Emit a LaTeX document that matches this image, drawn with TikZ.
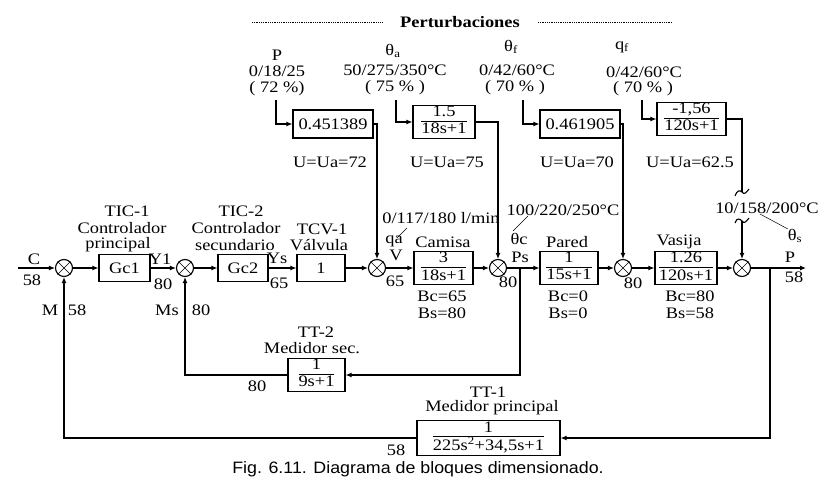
\documentclass[tikz,border=0pt]{standalone}
\usepackage{fontspec}
\setmainfont{Liberation Serif}[FakeStretch=1.15]
\newfontfamily\capfont{Liberation Sans}[FakeStretch=1.08]
\usetikzlibrary{arrows.meta}
\newcommand\fr[2]{{\renewcommand\arraystretch{0.75}\begin{tabular}{@{}c@{}}\rule[-2pt]{0pt}{12pt}#1\\\hline\rule{0pt}{13pt}#2\end{tabular}}}
\begin{document}
\begin{tikzpicture}[x=1pt,y=-1pt,
  every node/.style={font=\fontsize{16}{17}\selectfont, inner sep=0pt},
  blk/.style={draw, line width=1.1pt, minimum height=27pt, inner sep=1pt},
  sumj/.style={draw, circle, line width=1.1pt, minimum size=17pt, inner sep=0pt},
  ln/.style={line width=1.1pt},
  arr/.style={ln, -{Latex[length=6pt,width=5pt]}},
  lead/.style={line width=0.5pt},
  wav/.style={line width=1.1pt}]
\fill[white] (0,0) rectangle (828,485);
\useasboundingbox (0,0) rectangle (828,485);

% title
\node[font=\bfseries\fontsize{16}{17}\selectfont] (tit) at (460,22) {Perturbaciones};
\draw[line width=0.8pt, densely dotted] (252,22) -- (383,22);
\draw[line width=0.8pt, densely dotted] (538,22) -- (672,22);

% disturbance labels
\node (lp1) at (277,55) {P};
\node (lp2) at (277,71) {0/18/25};
\node (lp3) at (277,89) {( 72 \%)};
\node (la1) at (393,51) {θ\textsubscript{a}};
\node (la2) at (395,70) {50/275/350°C};
\node (la3) at (395,88) {( 75 \% )};
\node (lf1) at (511,47) {θ\textsubscript{f}};
\node (lf2) at (517,70) {0/42/60°C};
\node (lf3) at (515,88) {( 70 \% )};
\node (lq1) at (622,47) {q\textsubscript{f}};
\node (lq2) at (644,72) {0/42/60°C};
\node (lq3) at (643,89) {( 70 \% )};

% disturbance blocks
\node[blk, minimum width=80pt, minimum height=28pt] (bp) at (333,124) {0.451389};
\node[blk, minimum width=62pt, minimum height=30pt] (ba) at (444,122) {\fr{1.5}{18s+1}};
\node[blk, minimum width=80pt, minimum height=28pt] (bf) at (580,124) {0.461905};
\node[blk, minimum width=69pt, minimum height=32pt] (bq) at (691.5,119) {\fr{-1,56}{120s+1}};

\node (up) at (330,162) {U=Ua=72};
\node (ua) at (447,162) {U=Ua=75};
\node (uf) at (577,162) {U=Ua=70};
\node (uq) at (690,162) {U=Ua=62.5};

% main row
\node[sumj] (s1) at (64,268) {};
\node[sumj] (s2) at (185,268) {};
\node[sumj] (s3) at (377,268) {};
\node[sumj] (s4) at (498,268) {};
\node[sumj] (s5) at (623,268) {};
\node[sumj] (s6) at (742,268) {};
\foreach \s in {s1,s2,s3,s4,s5,s6}
  \draw[line width=0.6pt] (\s.north west) -- (\s.south east) (\s.north east) -- (\s.south west);

\node[blk, minimum width=51pt] (gc1) at (124.5,268) {Gc1};
\node[blk, minimum width=50pt] (gc2) at (243,268) {Gc2};
\node[blk, minimum width=48pt] (val) at (321,268) {1};
\node[blk, minimum width=59pt, minimum height=30pt] (cam) at (443.5,268) {\fr{3}{18s+1}};
\node[blk, minimum width=58pt, minimum height=30pt] (par) at (569,268) {\fr{1}{15s+1}};
\node[blk, minimum width=62pt, minimum height=30pt] (vas) at (686,268) {\fr{1.26}{120s+1}};

% block labels
\node (t1a) at (127,211) {TIC-1};
\node (t1b) at (122,228) {Controlador};
\node (t1c) at (118,245) {principal};
\node (t2a) at (241,211) {TIC-2};
\node (t2b) at (236,228) {Controlador};
\node (t2c) at (235,245) {secundario};
\node (tva) at (322,229) {TCV-1};
\node (tvb) at (319,245) {Válvula};
\node (tcam) at (443,242) {Camisa};
\node (tpar) at (567,242) {Pared};
\node (tvas) at (679,242) {Vasija};

% signal labels
\node (lc) at (34,259) {C};
\node (lc2) at (32,280) {58};
\node (ly1) at (160,259) {Y1};
\node (ly2) at (163,284) {80};
\node (lys) at (277,258) {Ys};
\node (lys2) at (279,283) {65};
\node (lqa) at (394,241) {qa};
\node (lv) at (396,255) {V};
\node (lv2) at (395,281) {65};
\node (lqr) at (441,218) {0/117/180 l/min};
\node (ltc) at (519,239) {θc};
\node (lps) at (520,257) {Ps};
\node (lps2) at (508,282) {80};
\node (ltcr) at (563,210) {100/220/250°C};
\node (l5) at (633,283) {80};
\node (lP) at (790,257) {P};
\node (lP2) at (794,277) {58};
\node (lts) at (767,208) {10/158/200°C};
\node (lths) at (795,236) {θ\textsubscript{s}};

\node (bc1) at (442,296) {Bc=65};
\node (bs1) at (442,313) {Bs=80};
\node (bc2) at (568,296) {Bc=0};
\node (bs2) at (568,313) {Bs=0};
\node (bc3) at (690,296) {Bc=80};
\node (bs3) at (690,313) {Bs=58};

\node (lm) at (50,310) {M};
\node (lm2) at (77,310) {58};
\node (lms) at (167,310) {Ms};
\node (lms2) at (201,310) {80};

% feedback blocks
\node (tt2a) at (316,332) {TT-2};
\node (tt2b) at (312,348) {Medidor sec.};
\node[blk, minimum width=57pt, minimum height=32pt] (tt2) at (316.5,375) {\fr{1}{9s+1}};
\node (l80) at (257,386) {80};
\node (tt1a) at (488,392) {TT-1};
\node (tt1b) at (492,408) {Medidor principal};
\node[blk, minimum width=143pt, minimum height=35pt] (tt1) at (488.5,438) {\fr{1}{225s\textsuperscript{2}+34,5s+1}};
\node (l58) at (396,450) {58};

\node[font=\capfont\fontsize{16.5}{18}\selectfont] (cap) at (418,469) {Fig. 6.11. Diagrama de bloques dimensionado.};

% coordinates
\coordinate (cin) at (18,268);
\coordinate (pout) at (806,268);
\coordinate (b2) at (520,268);
\coordinate (b1) at (770,268);
\coordinate (cp) at (276,100);
\coordinate (ca) at (396,100);
\coordinate (cf) at (523,100);
\coordinate (cq) at (642,100);
\coordinate (w1) at (742,192);
\coordinate (w2) at (742,221);

% main path
\draw[arr] (cin) -- (s1);
\draw[arr] (s1) -- (gc1);
\draw[arr] (gc1) -- (s2);
\draw[arr] (s2) -- (gc2);
\draw[arr] (gc2) -- (val);
\draw[arr] (val) -- (s3);
\draw[arr] (s3) -- (cam);
\draw[arr] (cam) -- (s4);
\draw[arr] (s4) -- (par);
\draw[arr] (par) -- (s5);
\draw[arr] (s5) -- (vas);
\draw[arr] (vas) -- (s6);
\draw[arr] (s6) -- (pout);

% feedback
\draw[arr] (b2) |- (tt2);
\draw[arr] (tt2) -| (s2);
\draw[arr] (b1) |- (tt1);
\draw[arr] (tt1) -| (s1);

% disturbances
\draw[arr] (cp) |- (bp);
\draw[arr] (bp) -| (s3);
\draw[arr] (ca) |- (ba);
\draw[arr] (ba) -| (s4);
\draw[arr] (cf) |- (bf);
\draw[arr] (bf) -| (s5);
\draw[arr] (cq) |- (bq);
\draw[ln] (bq) -| (w1);
\draw[wav] (w1) ++(-7,4) .. controls ++(2,-6) and ++(-2,-2) .. (w1) .. controls ++(2,3) and ++(-3,4) .. ++(7,-3);
\draw[wav] (w2) ++(-7,2) .. controls ++(2,-6) and ++(-2,-2) .. (w2) .. controls ++(2,3) and ++(-3,4) .. ++(7,-3);
\draw[arr] (w2) -- (s6);

% leaders
\coordinate (q1) at (407,228);
\coordinate (q2) at (397,238);
\draw[lead] (q1) -- (q2);
\coordinate (r1) at (528,216);
\coordinate (r2) at (513,231);
\draw[lead] (r1) -- (r2);
\coordinate (v1) at (760,214);
\draw[lead] (v1) -- (lths.north west);
\end{tikzpicture}
\end{document}
